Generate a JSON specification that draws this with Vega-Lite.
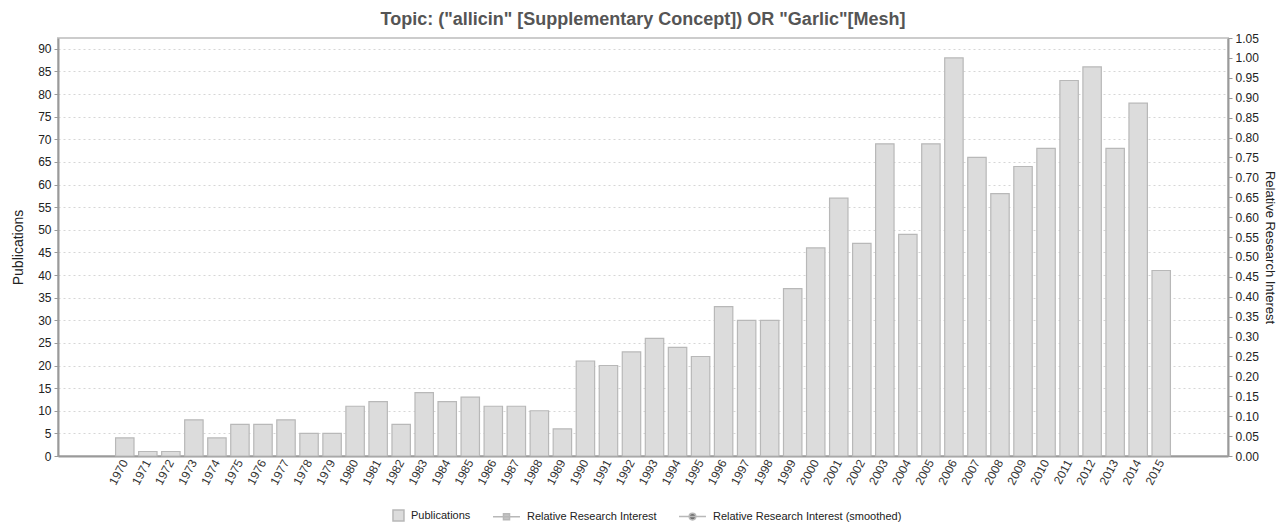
{
  "$schema": "https://vega.github.io/schema/vega-lite/v6.json",
  "width": 1170,
  "height": 418,
  "autosize": {"type": "none"},
  "padding": {"left": 58, "top": 38, "right": 50, "bottom": 66},
  "background": "white",
  "title": {
    "text": "Topic: (\"allicin\" [Supplementary Concept]) OR \"Garlic\"[Mesh]",
    "font": "Liberation Sans",
    "fontSize": 18,
    "fontWeight": "bold",
    "color": "#555555",
    "offset": 3,
    "anchor": "middle"
  },
  "data": {
    "values": [
      {"year": "1970", "publications": 4},
      {"year": "1971", "publications": 1},
      {"year": "1972", "publications": 1},
      {"year": "1973", "publications": 8},
      {"year": "1974", "publications": 4},
      {"year": "1975", "publications": 7},
      {"year": "1976", "publications": 7},
      {"year": "1977", "publications": 8},
      {"year": "1978", "publications": 5},
      {"year": "1979", "publications": 5},
      {"year": "1980", "publications": 11},
      {"year": "1981", "publications": 12},
      {"year": "1982", "publications": 7},
      {"year": "1983", "publications": 14},
      {"year": "1984", "publications": 12},
      {"year": "1985", "publications": 13},
      {"year": "1986", "publications": 11},
      {"year": "1987", "publications": 11},
      {"year": "1988", "publications": 10},
      {"year": "1989", "publications": 6},
      {"year": "1990", "publications": 21},
      {"year": "1991", "publications": 20},
      {"year": "1992", "publications": 23},
      {"year": "1993", "publications": 26},
      {"year": "1994", "publications": 24},
      {"year": "1995", "publications": 22},
      {"year": "1996", "publications": 33},
      {"year": "1997", "publications": 30},
      {"year": "1998", "publications": 30},
      {"year": "1999", "publications": 37},
      {"year": "2000", "publications": 46},
      {"year": "2001", "publications": 57},
      {"year": "2002", "publications": 47},
      {"year": "2003", "publications": 69},
      {"year": "2004", "publications": 49},
      {"year": "2005", "publications": 69},
      {"year": "2006", "publications": 88},
      {"year": "2007", "publications": 66},
      {"year": "2008", "publications": 58},
      {"year": "2009", "publications": 64},
      {"year": "2010", "publications": 68},
      {"year": "2011", "publications": 83},
      {"year": "2012", "publications": 86},
      {"year": "2013", "publications": 68},
      {"year": "2014", "publications": 78},
      {"year": "2015", "publications": 41}
    ]
  },
  "encoding": {
    "x": {
      "field": "year",
      "type": "nominal",
      "sort": null,
      "scale": {
        "domain": ["1968","1969","1970","1971","1972","1973","1974","1975","1976","1977","1978","1979","1980","1981","1982","1983","1984","1985","1986","1987","1988","1989","1990","1991","1992","1993","1994","1995","1996","1997","1998","1999","2000","2001","2002","2003","2004","2005","2006","2007","2008","2009","2010","2011","2012","2013","2014","2015","2016","2017"],
        "paddingInner": 0.2,
        "paddingOuter": 0.5
      },
      "axis": {
        "title": null,
        "values": ["1970","1971","1972","1973","1974","1975","1976","1977","1978","1979","1980","1981","1982","1983","1984","1985","1986","1987","1988","1989","1990","1991","1992","1993","1994","1995","1996","1997","1998","1999","2000","2001","2002","2003","2004","2005","2006","2007","2008","2009","2010","2011","2012","2013","2014","2015"],
        "labelAngle": -62,
        "labelAlign": "right",
        "labelBaseline": "middle",
        "labelFont": "Liberation Sans",
        "labelFontSize": 12,
        "labelColor": "#333333",
        "labelPadding": 4,
        "ticks": false,
        "domainColor": "#9a9a9a",
        "domainWidth": 2,
        "grid": false
      }
    }
  },
  "layer": [
    {
      "mark": {"type": "bar", "stroke": "#b8b8b8", "strokeWidth": 1.2},
      "encoding": {
        "y": {
          "field": "publications",
          "type": "quantitative",
          "scale": {"domain": [0, 92.4], "nice": false, "zero": true},
          "axis": {
            "title": "Publications",
            "titleFont": "Liberation Sans",
            "titleFontSize": 14,
            "titleFontWeight": "normal",
            "titleColor": "#222222",
            "titlePadding": 12,
            "values": [0,5,10,15,20,25,30,35,40,45,50,55,60,65,70,75,80,85,90],
            "labelFont": "Liberation Sans",
            "labelFontSize": 12,
            "labelColor": "#222222",
            "tickColor": "#9a9a9a",
            "tickSize": 4,
            "labelPadding": 3,
            "domainColor": "#9a9a9a",
            "domainWidth": 2,
            "grid": true,
            "gridColor": "#d6d6d6",
            "gridDash": [2, 3],
            "gridWidth": 1
          }
        },
        "color": {
          "datum": "Publications",
          "type": "nominal",
          "scale": {
            "domain": ["Publications", "Relative Research Interest", "Relative Research Interest (smoothed)"],
            "range": ["#dcdcdc", "#c4c4c4", "#6e6e6e"]
          },
          "legend": {
            "title": null,
            "orient": "bottom",
            "direction": "horizontal",
            "offset": 22,
            "labelFont": "Liberation Sans",
            "labelFontSize": 11,
            "labelColor": "#222222",
            "labelLimit": 0,
            "symbolSize": 121,
            "labelOffset": 14,
            "columnPadding": 19,
            "symbolStrokeWidth": 1.5,
            "encode": {
              "symbols": {
                "update": {
                  "fill": {"scale": "color", "field": "value"},
                  "stroke": {"signal": "datum.value === 'Publications' ? '#b4b4b4' : scale('color', datum.value)"},
                  "opacity": {"value": 1},
                  "strokeWidth": {"value": 1.5}
                }
              }
            }
          }
        }
      }
    },
    {
      "transform": [{"filter": "false"}],
      "mark": {"type": "point", "filled": true},
      "encoding": {
        "y": {
          "field": "interest",
          "type": "quantitative",
          "scale": {"domain": [0, 1.05], "nice": false, "zero": true},
          "axis": {
            "orient": "right",
            "title": "Relative Research Interest",
            "titleFont": "Liberation Sans",
            "titleFontSize": 13,
            "titleFontWeight": "normal",
            "titleColor": "#222222",
            "titlePadding": 4,
            "values": [0,0.05,0.1,0.15,0.2,0.25,0.3,0.35,0.4,0.45,0.5,0.55,0.6,0.65,0.7,0.75,0.8,0.85,0.9,0.95,1,1.05],
            "format": ".2f",
            "labelFont": "Liberation Sans",
            "labelFontSize": 12,
            "labelColor": "#222222",
            "tickColor": "#9a9a9a",
            "tickSize": 4,
            "labelPadding": 3,
            "domainColor": "#9a9a9a",
            "domainWidth": 2,
            "grid": false
          }
        },
        "color": {"datum": "Relative Research Interest", "type": "nominal"},
        "shape": {
          "datum": "Relative Research Interest",
          "type": "nominal",
          "scale": {
            "domain": ["Publications", "Relative Research Interest", "Relative Research Interest (smoothed)"],
            "range": [
              "M0.45,-1H2.45V1H0.45Z",
              "M-2.45,0H2.45M-0.55,-0.55H0.55V0.55H-0.55Z",
              "M-2.45,0H2.45M-0.6,0A0.6,0.6 0 1,0 0.6,0A0.6,0.6 0 1,0 -0.6,0Z"
            ]
          },
          "legend": null
        }
      }
    }
  ],
  "resolve": {"scale": {"y": "independent"}},
  "config": {
    "view": {"stroke": "#cccccc", "strokeWidth": 2},
    "legend": {"layout": {"bottom": {"anchor": "middle"}}}
  }
}
